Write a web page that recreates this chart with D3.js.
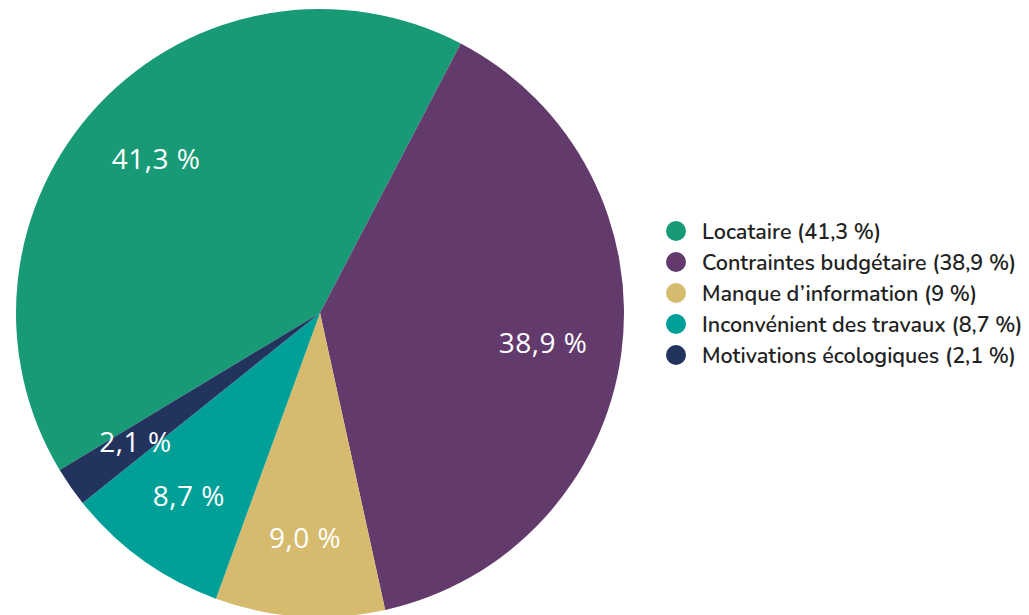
<!DOCTYPE html>
<html>
<head>
<meta charset="utf-8">
<script src="https://cdn.jsdelivr.net/npm/d3@7"></script>
<style>
  body { margin: 0; background: #fff; }
  svg { display: block; }
</style>
</head>
<body>
<svg id="chart" width="1029" height="615"></svg>
<script>
// data
const categories = ["Locataire", "Contraintes budgétaire", "Manque d\u2019information", "Inconvénient des travaux", "Motivations écologiques"];
const values = [41.3, 38.9, 9.0, 8.7, 2.1];
const sliceLabels = ["41,3 %", "38,9 %", "9,0 %", "8,7 %", "2,1 %"];
const legendLabels = ["Locataire (41,3 %)", "Contraintes budgétaire (38,9 %)", "Manque d\u2019information (9 %)", "Inconvénient des travaux (8,7 %)", "Motivations écologiques (2,1 %)"];
const colors = ["#189a77", "#633a6c", "#d6bb6f", "#00a098", "#22335e"];

const width = 1029, height = 615;
const cx = 320, cy = 313, radius = 304;

const svg = d3.select("#chart");
const g = svg.append("g").attr("transform", "translate(" + cx + "," + cy + ")");

const start = -121.1 * Math.PI / 180;
const pie = d3.pie().sort(null).value(d => d).startAngle(start).endAngle(start + 2 * Math.PI);
const arcs = pie(values);

const arc = d3.arc().innerRadius(0).outerRadius(radius);
const labelArc = d3.arc().innerRadius(radius * 0.74).outerRadius(radius * 0.74);

g.selectAll("path.slice")
  .data(arcs)
  .enter()
  .append("path")
  .attr("class", "slice")
  .attr("d", arc)
  .attr("fill", (d, i) => colors[i]);

g.selectAll("text.lbl")
  .data(arcs)
  .enter()
  .append("text")
  .attr("class", "lbl")
  .attr("transform", d => "translate(" + labelArc.centroid(d) + ")")
  .attr("text-anchor", "middle")
  .attr("dy", "0.36em")
  .attr("fill", "#fff")
  .style("font-family", "'Open Sans', sans-serif")
  .style("font-size", "28px")
  .style("letter-spacing", "0.5px")
  .text((d, i) => sliceLabels[i]);

// legend
const legend = svg.append("g").attr("transform", "translate(676,231)");
const rows = legend.selectAll("g.row")
  .data(legendLabels)
  .enter()
  .append("g")
  .attr("class", "row")
  .attr("transform", (d, i) => "translate(0," + (i * 31) + ")");

rows.append("circle")
  .attr("r", 10)
  .attr("fill", (d, i) => colors[i]);

rows.append("text")
  .attr("x", 26)
  .attr("dy", "0.35em")
  .attr("fill", "#222")
  .style("font-family", "Nunito, Lato, sans-serif")
  .style("font-weight", "600")
  .style("font-size", "21.5px")
  .text(d => d);
</script>
</body>
</html>
